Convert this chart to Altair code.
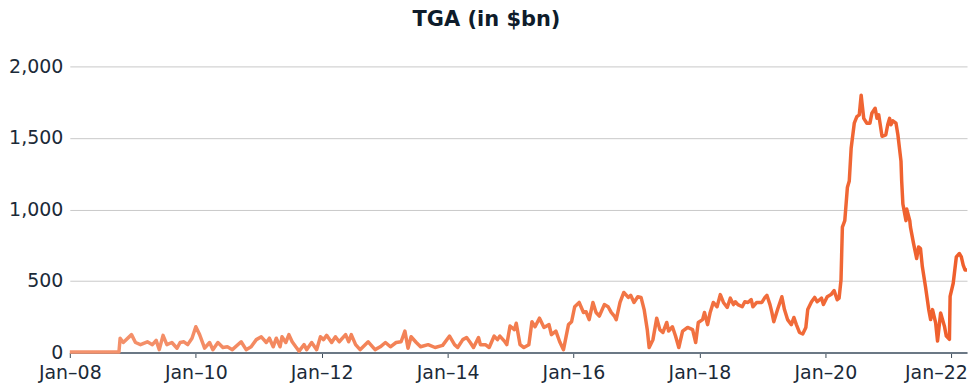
import altair as alt
import pandas as pd

# Time points (decimal years) and TGA balance ($bn)
years = [
    2008.00, 2008.78, 2008.80, 2008.85, 2008.98, 2009.04, 2009.12, 2009.23, 2009.31, 2009.37,
    2009.42, 2009.48, 2009.54, 2009.62, 2009.70, 2009.75, 2009.81, 2009.87, 2009.94, 2010.00,
    2010.06, 2010.14, 2010.22, 2010.27, 2010.35, 2010.43, 2010.50, 2010.58, 2010.72, 2010.80,
    2010.88, 2010.96,
    2011.04, 2011.12, 2011.17, 2011.23, 2011.28, 2011.34, 2011.37, 2011.43, 2011.48, 2011.53,
    2011.59, 2011.64, 2011.72, 2011.76, 2011.84, 2011.92, 2011.98, 2012.03, 2012.08, 2012.16,
    2012.22, 2012.28, 2012.38, 2012.43, 2012.47, 2012.54, 2012.61, 2012.74, 2012.85, 2012.93,
    2013.01, 2013.09, 2013.18, 2013.26, 2013.32, 2013.37, 2013.42, 2013.50, 2013.57, 2013.69,
    2013.80,
    2013.92, 2014.03, 2014.11, 2014.16, 2014.24, 2014.30, 2014.36, 2014.41, 2014.49, 2014.52,
    2014.60, 2014.66, 2014.74, 2014.79, 2014.83, 2014.90, 2014.94, 2014.99, 2015.06, 2015.09,
    2015.15, 2015.21, 2015.29, 2015.34, 2015.39, 2015.46, 2015.53, 2015.61, 2015.65, 2015.72,
    2015.78, 2015.84, 2015.92, 2015.97, 2016.02, 2016.09, 2016.16,
    2016.20, 2016.25, 2016.31, 2016.36, 2016.41, 2016.49, 2016.55, 2016.60, 2016.65, 2016.68,
    2016.74, 2016.80, 2016.87, 2016.91, 2016.96, 2017.02, 2017.07, 2017.12, 2017.17, 2017.20,
    2017.26, 2017.32, 2017.37, 2017.42, 2017.48, 2017.51, 2017.57, 2017.62, 2017.67, 2017.73,
    2017.81, 2017.89, 2017.94, 2017.98, 2018.05, 2018.08, 2018.13, 2018.17, 2018.22, 2018.28,
    2018.33, 2018.38, 2018.44, 2018.49, 2018.54,
    2018.57, 2018.61, 2018.68, 2018.72, 2018.77, 2018.82, 2018.85, 2018.91, 2018.99, 2019.04,
    2019.07, 2019.12, 2019.15, 2019.18, 2019.24, 2019.31, 2019.35, 2019.40, 2019.46, 2019.50,
    2019.54, 2019.59, 2019.64, 2019.69, 2019.72, 2019.78, 2019.83, 2019.87, 2019.94, 2019.97,
    2020.03, 2020.09,
    2020.14, 2020.19, 2020.22, 2020.25, 2020.27, 2020.31, 2020.35, 2020.38, 2020.41, 2020.46,
    2020.50, 2020.54, 2020.57, 2020.58, 2020.61, 2020.66, 2020.71, 2020.74, 2020.79, 2020.82,
    2020.85, 2020.90, 2020.96, 2020.99, 2021.02, 2021.04, 2021.07, 2021.12, 2021.15, 2021.20,
    2021.21, 2021.23, 2021.28, 2021.29, 2021.34, 2021.35, 2021.40, 2021.45, 2021.48, 2021.51,
    2021.54, 2021.59, 2021.64, 2021.67, 2021.70, 2021.75, 2021.78, 2021.83, 2021.89, 2021.92,
    2021.97, 2021.98, 2022.03, 2022.08, 2022.13, 2022.16, 2022.19, 2022.22, 2022.25,
]
tga = [
    3, 3, 100, 70, 125, 70, 55, 75, 55, 85,
    20, 120, 55, 70, 30, 70, 75, 55, 100, 180,
    125, 30, 70, 20, 70, 35, 40, 20, 75, 20,
    40, 90,
    110, 70, 100, 40, 100, 40, 110, 70, 125, 75,
    40, 10, 55, 20, 70, 20, 110, 90, 120, 70,
    110, 75, 125, 75, 125, 55, 20, 75, 20, 40,
    70, 40, 70, 75, 150, 30, 110, 70, 40, 55,
    35,
    50, 115, 55, 35, 90, 105, 70, 35, 105, 55,
    55, 35, 115, 90, 115, 80, 55, 185, 160, 205,
    55, 35, 55, 215, 180, 240, 175, 195, 125, 150,
    75, 20, 195, 215, 320, 350, 280,
    285, 230, 350, 280, 255, 335, 320, 280, 255, 230,
    350, 420, 385, 400, 350, 390, 385, 300, 160, 35,
    90, 240, 160, 140, 210, 150, 180, 115, 35, 150,
    175, 160, 70, 210, 230, 280, 195, 280, 350, 320,
    405, 350, 315, 380, 335,
    355, 335, 320, 355, 350, 370, 320, 350, 350, 385,
    400, 335, 280, 215, 300, 390, 300, 230, 195, 245,
    195, 140, 130, 175, 300, 355, 385, 355, 380, 335,
    390, 405,
    433, 369, 380, 507, 876, 922, 1153, 1199, 1430, 1603,
    1649, 1661, 1799, 1753, 1637, 1603, 1603, 1672, 1707, 1637,
    1661, 1511, 1522, 1592, 1637, 1592, 1619, 1603, 1522, 1338,
    1199, 1038, 922, 1003, 922, 876, 761, 657, 738, 727,
    599, 461, 300, 230, 300, 208, 80, 277, 184, 115,
    92, 392, 484, 668, 692, 668, 611, 576, 576,
]

x_tick_years = [2008, 2010, 2012, 2014, 2016, 2018, 2020, 2022]
y_ticks = [0, 500, 1000, 1500, 2000]


def to_date(y):
    base = int(y)
    return pd.Timestamp(f"{base}-01-01") + pd.Timedelta(days=round((y - base) * 365.25))


df = pd.DataFrame({"date": [to_date(y) for y in years], "tga": tga})

FONT = "DejaVu Sans"
LABEL = "#1b2a38"
LAST_TICK_TEST = "datum.value > time(datetime(2021, 0, 1))"

gradient = alt.Gradient(
    gradient="linear",
    stops=[
        alt.GradientStop(offset=0, color="#F4936E"),
        alt.GradientStop(offset=0.55, color="#F27A4B"),
        alt.GradientStop(offset=1, color="#EF5E2B"),
    ],
    x1=0, x2=1, y1=0, y2=0,
)

chart = (
    alt.Chart(df)
    .mark_line(strokeWidth=3.5, color=gradient, strokeJoin="round")
    .encode(
        x=alt.X(
            "date:T",
            title=None,
            scale=alt.Scale(nice=False),
            axis=alt.Axis(
                values=[alt.DateTime(year=y, month=1, date=1) for y in x_tick_years],
                format="%b\u2013%y",
                grid=False,
                domainColor="#6b7885",
                domainWidth=2,
                tickColor="#3b4a57",
                tickSize=5,
                tickWidth=1,
                labelFontSize=19,
                labelFont=FONT,
                labelColor=LABEL,
                labelPadding=6,
                labelFlush=False,
                labelAlign=alt.ConditionalAxisLabelAlign(
                    condition={"test": LAST_TICK_TEST, "value": "right"}, value="center"
                ),
                labelOffset=alt.ConditionalAxisNumber(
                    condition={"test": LAST_TICK_TEST, "value": 16}, value=0
                ),
            ),
        ),
        y=alt.Y(
            "tga:Q",
            title=None,
            scale=alt.Scale(domain=[0, 2000], nice=False),
            axis=alt.Axis(
                values=y_ticks,
                format=",.0f",
                domain=False,
                ticks=False,
                gridColor="#c9c9c9",
                gridWidth=1,
                labelFontSize=19,
                labelFont=FONT,
                labelColor=LABEL,
                labelPadding=7,
                minExtent=54,
                maxExtent=54,
            ),
        ),
    )
    .properties(
        width=900,
        height=287,
        padding={"left": 0, "top": 0, "right": 0, "bottom": 0},
        title=alt.TitleParams(
            "TGA (in $bn)",
            fontSize=21,
            fontWeight="bold",
            font=FONT,
            color="#0e1c2b",
            anchor="middle",
            dx=-32,
            offset=28,
        ),
    )
    .configure_view(stroke=None)
)

chart.save("out.html", embed_options={"renderer": "svg", "actions": False})
